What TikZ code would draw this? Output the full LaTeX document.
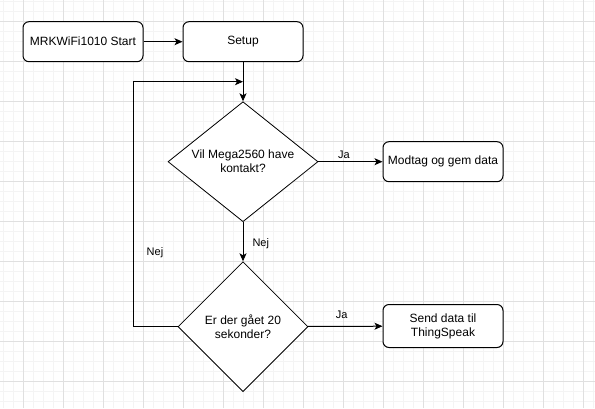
\documentclass[tikz,border=0pt]{standalone}
\usepackage{fontspec}
\setmainfont{Liberation Sans}
\usetikzlibrary{shapes.geometric,arrows.meta}
\definecolor{gmajor}{HTML}{E0E0E0}
\definecolor{gminor}{HTML}{F4F4F4}
\begin{document}
\begin{tikzpicture}[x=1pt,y=-1pt,
  box/.style={draw,rounded corners=6pt,minimum width=120pt,minimum height=40pt,align=center,inner sep=2pt,line width=1pt,font=\fontsize{12}{14}\selectfont,fill=white},
  dec/.style={draw,diamond,inner sep=0pt,align=center,line width=0.8pt,font=\fontsize{12}{14}\selectfont,fill=white},
  arr/.style={line width=1pt,-{Stealth[length=8pt,width=7pt,inset=2pt]}},
  lbl/.style={font=\fontsize{11}{13}\selectfont,inner sep=1pt},
  minorline/.style={gminor,line width=0.8pt},
  majorline/.style={gmajor,line width=1pt}]
\useasboundingbox (0,0) rectangle (595,408);
\fill[white] (0,0) rectangle (595,408);
\foreach \x in {3,13,...,593} \draw[minorline] (\x,0) -- (\x,408);
\foreach \y in {1.7,11.7,...,401.7} \draw[minorline] (0,\y) -- (595,\y);
\foreach \x in {23,63,...,583} \draw[majorline] (\x,0) -- (\x,408);
\foreach \y in {21.7,61.7,...,381.7} \draw[majorline] (0,\y) -- (595,\y);

\node[box] (start) at (83,41.7) {MRKWiFi1010 Start};
\node[box] (setup) at (243,41.7) {Setup};
\node[dec,minimum width=150pt,minimum height=120pt,aspect=1.25] (d1) at (243,161.7) {Vil Mega2560 have\\kontakt?};
\node[box] (modtag) at (443,161.7) {Modtag og gem data};
\node[dec,minimum width=130pt,minimum height=130pt,aspect=1] (d2) at (243,326.7) {Er der gået 20\\sekonder?};
\node[box,minimum height=43pt] (send) at (443,326) {Send data til\\ThingSpeak};
\coordinate (lc) at (133,81.7);
\coordinate (le) at (243,81.7);

\draw[arr] (start) -- (setup);
\draw[arr] (setup) -- (d1);
\draw[arr] (d1) -- node[lbl,pos=0.4,above=2pt] (ja1) {Ja} (modtag);
\draw[arr] (d1) -- node[lbl,pos=0.55,right=8pt] (nej1) {Nej} (d2);
\draw[arr] (d2) -- node[lbl,pos=0.45,above=6pt] (ja2) {Ja} (send);
\draw[arr] (d2.west) -| (lc) -- (le);
\node[lbl] (nej2) at (155,253) {Nej};
\end{tikzpicture}
\end{document}
